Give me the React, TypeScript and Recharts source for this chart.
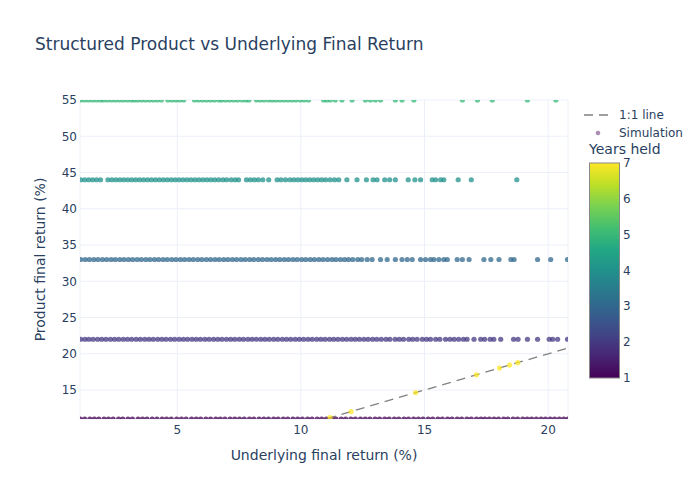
import { CartesianGrid, Label, Scatter, ScatterChart, XAxis, YAxis } from "recharts";

// product pays a fixed coupon per year held, or the underlying at maturity (year 7)
const couponByYear = [11, 22, 33, 44, 55];
const yearColors = ["#440154", "#443983", "#31688e", "#21918c", "#37b878", "#8fd744", "#fde725"];

const underlyingYr1 = [
  1.08, 1.26, 1.47, 1.65, 1.83, 2.04, 2.22, 2.41, 2.63, 2.8, 3.01, 3.19, 3.42, 3.6, 3.78, 3.99, 4.18,
  4.39, 4.57, 4.76, 4.98, 5.17, 5.36, 5.58, 5.77, 5.95, 6.16, 6.35, 6.56, 6.74, 6.93, 7.14, 7.33, 7.52,
  7.71, 7.92, 8.1, 8.31, 8.5, 8.69, 8.9, 9.08, 9.29, 9.47, 9.68, 9.87, 10.06, 10.27, 10.45, 10.66,
  10.84, 11.03, 11.24, 11.42, 11.63, 11.81, 12.02, 12.2, 12.41, 12.6, 12.79, 13.0, 13.18, 13.39, 13.57,
  13.78, 13.96, 14.17, 14.35, 14.56, 14.75, 14.94, 15.15, 15.33, 15.54, 15.72, 15.93, 16.11, 16.32,
  16.5, 16.71, 16.89, 17.1, 17.28, 17.44, 17.62, 17.81, 17.99, 18.2, 18.37, 18.58, 18.76, 18.97, 19.15,
  19.33, 19.52, 19.71, 19.89, 20.08, 20.26, 20.45, 20.63, 20.8,
];
const underlyingYr2 = [
  1.1, 1.27, 1.43, 1.6, 1.78, 1.95, 2.12, 2.3, 2.47, 2.64, 2.82, 2.99, 3.16, 3.34, 3.51, 3.69, 3.86,
  4.03, 4.21, 4.38, 4.55, 4.73, 4.9, 5.08, 5.25, 5.42, 5.6, 5.77, 5.94, 6.12, 6.29, 6.47, 6.64, 6.81,
  6.99, 7.16, 7.33, 7.51, 7.68, 7.86, 8.03, 8.2, 8.38, 8.55, 8.72, 8.9, 9.07, 9.25, 9.42, 9.59, 9.77,
  9.94, 10.11, 10.29, 10.46, 10.64, 10.81, 10.98, 11.16, 11.33, 11.5, 11.68, 11.85, 12.03, 12.2, 12.37,
  12.55, 12.72, 12.9, 13.07, 13.25, 13.44, 13.6, 13.81, 13.98, 14.15, 14.36, 14.52, 14.7, 14.91, 15.08,
  15.24, 15.45, 15.62, 15.85, 16.03, 16.2, 16.38, 16.57, 16.72, 17.0, 17.27, 17.43, 17.65, 17.8, 18.08,
  18.6, 18.78, 19.16, 19.57, 20.04, 20.18, 20.38, 20.78,
];
const underlyingYr3 = [
  1.1, 1.28, 1.45, 1.63, 1.8, 1.98, 2.15, 2.33, 2.5, 2.68, 2.85, 3.03, 3.2, 3.38, 3.55, 3.73, 3.9, 4.08,
  4.25, 4.43, 4.6, 4.78, 4.95, 5.13, 5.3, 5.48, 5.65, 5.83, 6.0, 6.18, 6.35, 6.53, 6.7, 6.88, 7.05, 7.23,
  7.4, 7.58, 7.75, 7.93, 8.1, 8.28, 8.45, 8.63, 8.8, 8.98, 9.15, 9.33, 9.5, 9.68, 9.85, 10.03, 10.2,
  10.38, 10.55, 10.73, 10.9, 11.08, 11.26, 11.42, 11.6, 11.77, 11.93, 12.1, 12.3, 12.46, 12.68, 12.88,
  13.22, 13.49, 13.82, 14.09, 14.3, 14.5, 14.84, 15.04, 15.24, 15.38, 15.58, 15.78, 15.92, 16.32, 16.53,
  16.8, 17.4, 17.68, 18.01, 18.49, 18.62, 19.57, 20.1, 20.78,
];
const underlyingYr4 = [
  1.1, 1.26, 1.42, 1.58, 1.74, 1.9, 2.2, 2.36, 2.52, 2.68, 2.84, 3.0, 3.16, 3.32, 3.48, 3.64, 3.8, 3.96,
  4.12, 4.28, 4.44, 4.6, 4.76, 4.92, 5.08, 5.24, 5.4, 5.56, 5.72, 5.88, 6.04, 6.2, 6.36, 6.52, 6.68,
  6.85, 7.0, 7.18, 7.34, 7.48, 7.8, 7.96, 8.12, 8.28, 8.46, 8.7, 9.04, 9.2, 9.38, 9.56, 9.72, 9.88,
  10.04, 10.2, 10.36, 10.52, 10.68, 10.84, 11.0, 11.18, 11.36, 11.53, 11.86, 12.27, 12.65, 12.92, 13.08,
  13.39, 13.59, 13.82, 14.34, 14.61, 14.84, 15.31, 15.45, 15.65, 15.78, 16.36, 16.89, 18.73,
];
const underlyingYr5 = [
  1.1, 1.26, 1.42, 1.58, 1.74, 1.9, 2.02, 2.18, 2.34, 2.5, 2.66, 2.82, 2.98, 3.14, 3.26, 3.4, 3.56, 3.72,
  3.88, 4.04, 4.2, 4.36, 4.62, 4.78, 4.94, 5.1, 5.26, 5.7, 5.86, 6.02, 6.18, 6.34, 6.5, 6.68, 6.8, 6.96,
  7.12, 7.28, 7.44, 7.62, 7.78, 7.9, 8.2, 8.36, 8.52, 8.7, 8.85, 9.0, 9.16, 9.32, 9.48, 9.64, 9.8, 9.98,
  10.14, 10.31, 10.92, 11.05, 11.19, 11.39, 11.66, 12.07, 12.61, 12.81, 13.01, 13.22, 13.82, 14.09,
  14.57, 16.53, 17.14, 17.74, 19.16, 20.31,
];
// held to maturity: product return equals the underlying
const underlyingYr7 = [11.18, 12.03, 14.64, 17.1, 18.03, 18.44, 18.77];

const oneToOne = [0, 22];

const xTicks = [5, 10, 15, 20];
const yTicks = [15, 20, 25, 30, 35, 40, 45, 50, 55];
const colorbarTicks = [1, 2, 3, 4, 5, 6, 7];
const viridisStops = ["#440154", "#482475", "#414487", "#355f8d", "#2a788e", "#21918c", "#22a884", "#44bf70", "#7ad151", "#bddf26", "#fde725"];

const groups = [underlyingYr1, underlyingYr2, underlyingYr3, underlyingYr4, underlyingYr5].map((xs, i) => ({
  year: i + 1,
  data: xs.map((x) => ({ x, y: couponByYear[i] })),
}));
groups.push({ year: 7, data: underlyingYr7.map((x) => ({ x, y: x })) });

const lineData = oneToOne.map((v) => ({ x: v, y: v }));

const FONT = '"DejaVu Sans", verdana, arial, sans-serif';
const INK = "#2a3f5f";

const dot = (color: string) => (p: any) => (
  <circle cx={p.cx} cy={p.cy} r={2.6} fill={color} fillOpacity={0.75} />
);

export default function App() {
  const cbTop = 163;
  const cbHeight = 215;
  return (
    <div style={{ position: "absolute", left: 0, top: 0, width: 700, height: 500, background: "#fff", fontFamily: FONT }}>
      <ScatterChart width={700} height={500} margin={{ top: 100, right: 132, bottom: 36, left: 30 }}>
        <CartesianGrid stroke="#ebf0f8" strokeWidth={1} />
        <XAxis
          type="number"
          dataKey="x"
          domain={[1.07, 20.8]}
          ticks={xTicks}
          allowDataOverflow
          axisLine={false}
          tickLine={false}
          tickSize={0}
          tickMargin={6}
          height={45}
          tick={{ fill: INK, fontSize: 12, fontFamily: FONT }}
        >
          <Label
            content={({ viewBox }: any) => (
              <text x={viewBox.x + viewBox.width / 2} y={viewBox.y + 41} textAnchor="middle" fill={INK} fontSize={14} fontFamily={FONT}>
                Underlying final return (%)
              </text>
            )}
          />
        </XAxis>
        <YAxis
          type="number"
          dataKey="y"
          domain={[11, 55]}
          ticks={yTicks}
          allowDataOverflow
          axisLine={false}
          tickLine={false}
          tickSize={0}
          tickMargin={3}
          width={50}
          tick={{ fill: INK, fontSize: 12, fontFamily: FONT }}
        >
          <Label
            content={({ viewBox }: any) => {
              const cx = viewBox.x + 15;
              const cy = viewBox.y + viewBox.height / 2;
              return (
                <text x={cx} y={cy} transform={`rotate(-90 ${cx} ${cy})`} textAnchor="middle" fill={INK} fontSize={14} fontFamily={FONT}>
                  Product final return (%)
                </text>
              );
            }}
          />
        </YAxis>
        <Scatter
          name="1:1 line"
          data={lineData}
          line={{ stroke: "#808080", strokeWidth: 1.3, strokeDasharray: "9 6" }}
          shape={() => <g />}
          isAnimationActive={false}
        />
        {groups.map((g) => (
          <Scatter
            key={g.year}
            name="Simulation"
            data={g.data}
            shape={dot(yearColors[g.year - 1])}
            isAnimationActive={false}
          />
        ))}
      </ScatterChart>

      <svg width={700} height={500} style={{ position: "absolute", left: 0, top: 0, pointerEvents: "none" }}>
        <defs>
          <linearGradient id="viridis" x1="0" y1="1" x2="0" y2="0">
            {viridisStops.map((c, i) => (
              <stop key={c} offset={`${(i / (viridisStops.length - 1)) * 100}%`} stopColor={c} />
            ))}
          </linearGradient>
        </defs>
        <text x={35} y={50} fill={INK} fontSize={17} fontFamily={FONT}>
          Structured Product vs Underlying Final Return
        </text>

        {/* legend */}
        <line x1={584} x2={613} y1={115} y2={115} stroke="#808080" strokeWidth={1.3} strokeDasharray="9 6" />
        <text x={619} y={119} fill={INK} fontSize={12} fontFamily={FONT}>1:1 line</text>
        <circle cx={598} cy={133} r={2.3} fill="#440154" fillOpacity={0.45} />
        <text x={619} y={137} fill={INK} fontSize={12} fontFamily={FONT}>Simulation</text>

        {/* colorbar */}
        <text x={589} y={154} fill={INK} fontSize={14} fontFamily={FONT}>Years held</text>
        <rect x={589.5} y={cbTop} width={30} height={cbHeight} fill="url(#viridis)" stroke="#888" strokeWidth={1} />
        {colorbarTicks.map((t) => (
          <text
            key={t}
            x={623}
            y={cbTop + cbHeight - ((t - 1) / 6) * cbHeight + 4}
            fill={INK}
            fontSize={12}
            fontFamily={FONT}
          >
            {t}
          </text>
        ))}
      </svg>
    </div>
  );
}
